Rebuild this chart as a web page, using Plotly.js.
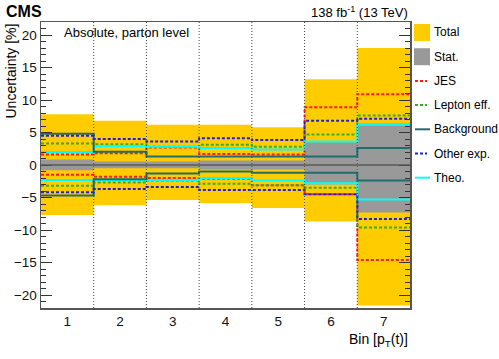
<!DOCTYPE html>
<html>
<head>
<meta charset="utf-8">
<script src="https://cdn.plot.ly/plotly-3.0.1.min.js"></script>
<style>body{margin:0;background:#fff}</style>
</head>
<body>
<div id="plot" style="width:499px;height:359px"></div>
<script>
// uncertainties per bin, in percent
var bins = [1, 2, 3, 4, 5, 6, 7];
var totalUp   = [7.8, 6.8, 6.2, 6.2, 5.8, 13.2, 18.0];
var totalDown = [-7.7, -6.2, -5.4, -5.9, -6.6, -8.7, -21.6];
var statUp    = [0.85, 0.55, 0.55, 0.7, 0.7, 3.5, 6.4];
var statDown  = [-0.8, -0.5, -0.5, -0.7, -0.7, -3.0, -7.3];
var jesUp     = [1.6, 1.8, 2.7, 1.7, 1.6, 8.9, 10.9];
var jesDown   = [-1.5, -1.8, -2.0, -2.1, -3.1, -4.5, -14.6];
var lepUp     = [3.3, 3.2, 2.8, 3.1, 2.8, 4.7, 7.6];
var lepDown   = [-3.2, -2.7, -2.4, -2.9, -3.1, -3.5, -9.6];
var bkgUp     = [4.8, 2.05, 1.3, 1.3, 1.3, 1.3, 2.6];
var bkgDown   = [-4.7, -2.2, -1.3, -1.0, -1.2, -1.2, -2.4];
var othUp     = [4.5, 4.0, 3.6, 4.1, 3.85, 6.8, 7.1];
var othDown   = [-4.2, -3.7, -3.4, -3.85, -3.85, -4.5, -8.3];
var theoUp    = [2.0, 2.9, 2.8, 2.6, 2.4, 3.6, 6.2];
var theoDown  = [-2.3, -2.3, -2.3, -2.05, -2.4, -2.8, -5.3];

var FONT = "Liberation Sans, Arial, Helvetica, sans-serif";

// bin edges for the step lines
var edges = bins.map(b => b - 0.5).concat([bins[bins.length - 1] + 0.5]);
function step(vals) { return vals.concat([vals[vals.length - 1]]); }

function band(up, down, color) {
  return {
    type: "bar", x: bins,
    y: up.map((u, i) => u - down[i]),
    base: down, width: 1,
    marker: {color: color, line: {width: 0}},
    hoverinfo: "skip", showlegend: false
  };
}
function stepLine(vals, color, dash) {
  return {
    type: "scatter", mode: "lines", x: edges, y: step(vals),
    line: {shape: "hv", color: color, width: 2, dash: dash},
    hoverinfo: "skip", showlegend: false
  };
}

var cols = {jes: "#ff1a1a", lep: "#33b01e", bkg: "#1f6e6e", oth: "#1f1fe0", theo: "#00ffff"};
var DASH = "3px,2px";

var data = [
  band(totalUp, totalDown, "#ffcc00"),
  band(statUp, statDown, "#999999"),
  stepLine(jesUp, cols.jes, DASH), stepLine(jesDown, cols.jes, DASH),
  stepLine(lepUp, cols.lep, DASH), stepLine(lepDown, cols.lep, DASH),
  stepLine(theoUp, cols.theo, "solid"), stepLine(theoDown, cols.theo, "solid"),
  stepLine(bkgUp, cols.bkg, "solid"), stepLine(bkgDown, cols.bkg, "solid"),
  stepLine(othUp, cols.oth, DASH), stepLine(othDown, cols.oth, DASH)
];

// pixel -> paper helpers (plot area 41..410 x 22..308)
function px(x) { return (x - 41) / 369; }
function py(y) { return (308 - y) / 286; }

var shapes = [];
bins.slice(1).forEach(b => shapes.push({
  type: "line", xref: "x", yref: "paper", x0: b - 0.5, x1: b - 0.5, y0: 0, y1: 1,
  line: {color: "#444", width: 1, dash: "1px,2px"}, layer: "above"
}));
shapes.push({type: "line", xref: "paper", yref: "y", x0: 0, x1: 1, y0: 0, y1: 0,
  line: {color: "#5a5a5a", width: 1.5}, layer: "above"});

var annotations = [
  {text: "<b>CMS</b>", x: px(4), y: py(12), xanchor: "left", font: {size: 16}},
  {text: "138 fb<sup>-1</sup> (13 TeV)", x: px(410), y: py(12), xanchor: "right", font: {size: 13}},
  {text: "Absolute, parton level", x: px(62), y: py(33), xanchor: "left", font: {size: 13}},
  {text: "Uncertainty [%]", x: px(10), y: py(22), xanchor: "center", yanchor: "top", textangle: -90, font: {size: 14}},
  {text: "Bin [p<sub>T</sub>(t)]", x: px(410), y: py(340), xanchor: "right", font: {size: 14}}
];

// legend drawn by hand, ROOT style
var legendItems = [
  {name: "Total", kind: "box", color: "#ffcc00"},
  {name: "Stat.", kind: "box", color: "#999999"},
  {name: "JES", kind: "line", color: cols.jes, dash: DASH},
  {name: "Lepton eff.", kind: "line", color: cols.lep, dash: DASH},
  {name: "Background", kind: "line", color: cols.bkg, dash: "solid"},
  {name: "Other exp.", kind: "line", color: cols.oth, dash: DASH},
  {name: "Theo.", kind: "line", color: cols.theo, dash: "solid"}
];
legendItems.forEach(function (it, i) {
  var yc = 32.5 + i * 24.2;
  if (it.kind === "box") {
    shapes.push({type: "rect", xref: "paper", yref: "paper",
      x0: px(414), x1: px(430), y0: py(yc - 8.5), y1: py(yc + 8.5),
      fillcolor: it.color, line: {width: 0}});
  } else {
    shapes.push({type: "line", xref: "paper", yref: "paper",
      x0: px(415), x1: px(it.dash === "solid" ? 430 : 427), y0: py(yc), y1: py(yc),
      line: {color: it.color, width: 2, dash: it.dash}});
  }
  annotations.push({text: it.name, x: px(432), y: py(yc), xanchor: "left", font: {size: 12}});
});
annotations.forEach(a => {
  a.xref = "paper"; a.yref = "paper"; a.showarrow = false;
  if (!a.yanchor) a.yanchor = "middle";
  a.font.family = FONT; a.font.color = "#000";
});

var layout = {
  width: 499, height: 359,
  margin: {l: 41, r: 89, t: 22, b: 51},
  paper_bgcolor: "#fff", plot_bgcolor: "#fff",
  barmode: "overlay", showlegend: false,
  font: {family: FONT, color: "#111"},
  xaxis: {
    range: [0.5, 7.5], tickvals: bins, ticktext: bins.map(String),
    ticks: "", showgrid: false, zeroline: false,
    showline: true, mirror: true, linecolor: "#555", linewidth: 1.5,
    tickfont: {size: 13.5, family: FONT, color: "#111"}
  },
  yaxis: {
    range: [-22, 22], tickvals: [-20, -15, -10, -5, 0, 5, 10, 15, 20],
    ticks: "inside", ticklen: 11, tickcolor: "#333", tickwidth: 1,
    minor: {dtick: 1, ticks: "inside", ticklen: 5, tickcolor: "#333", showgrid: false},
    showgrid: false, zeroline: false,
    showline: true, mirror: "ticks", linecolor: "#555", linewidth: 1.5,
    tickfont: {size: 13.5, family: FONT, color: "#111"}
  },
  shapes: shapes,
  annotations: annotations
};

Plotly.newPlot("plot", data, layout, {staticPlot: true});
</script>
</body>
</html>
